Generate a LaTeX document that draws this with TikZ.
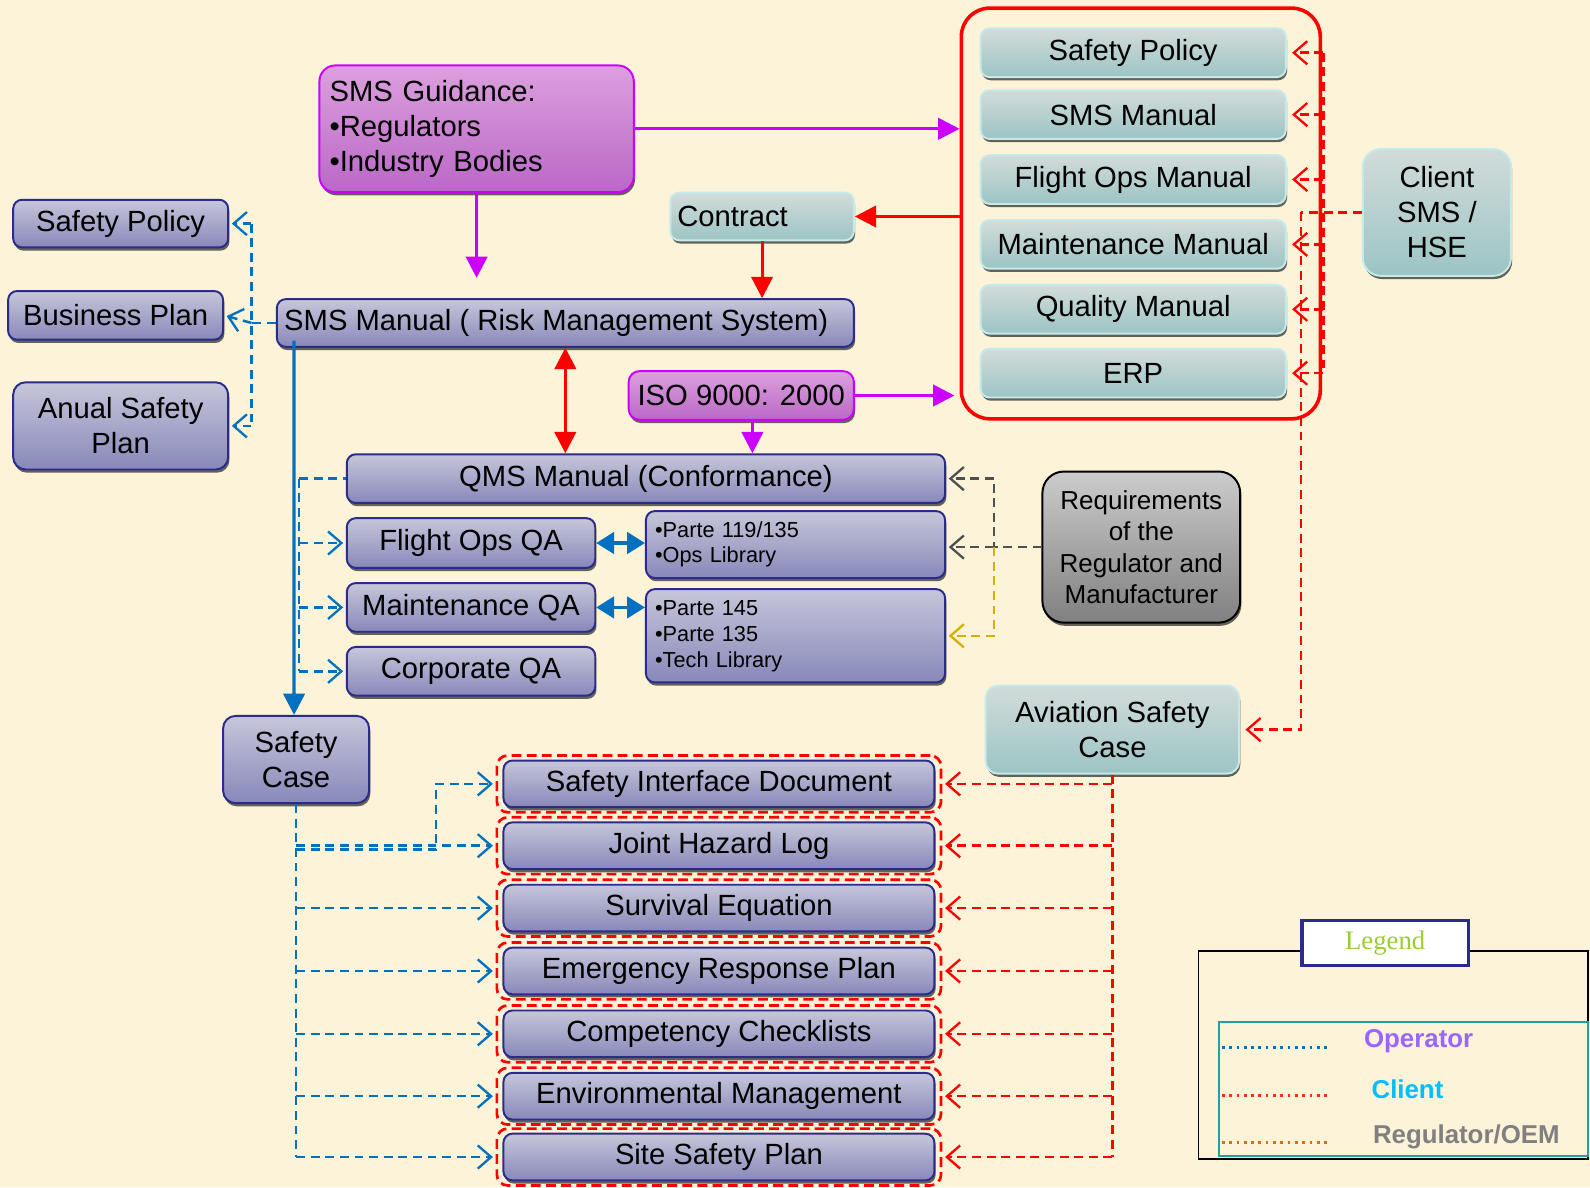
\documentclass[tikz,border=0pt]{standalone}
\usepackage{fontspec}
\setmainfont{Liberation Sans}
\newfontfamily\legendserif{Liberation Serif}
\usetikzlibrary{arrows.meta,shadows,calc}

\definecolor{paper}{RGB}{252,243,216}
\definecolor{navy}{RGB}{43,43,140}
\definecolor{lavtop}{RGB}{198,198,218}
\definecolor{lavbot}{RGB}{136,136,186}
\definecolor{tealtop}{RGB}{210,220,218}
\definecolor{tealbot}{RGB}{156,196,196}
\definecolor{tealedge}{RGB}{196,234,236}
\definecolor{magtop}{RGB}{220,160,222}
\definecolor{magbot}{RGB}{186,104,198}
\definecolor{magedge}{RGB}{204,0,255}
\definecolor{greytop}{RGB}{204,204,204}
\definecolor{greybot}{RGB}{128,128,128}
\definecolor{opblue}{RGB}{0,112,192}
\definecolor{reqgrey}{RGB}{80,80,80}
\definecolor{reqyellow}{RGB}{214,176,0}
\definecolor{legteal}{RGB}{32,160,160}
\definecolor{legorange}{RGB}{214,112,16}
\definecolor{legred}{RGB}{255,48,16}
\definecolor{legpurple}{RGB}{153,102,255}
\definecolor{legcyan}{RGB}{0,191,255}
\definecolor{leggreen}{RGB}{154,205,50}
\definecolor{leggrey}{RGB}{128,128,128}

\tikzset{
  boxbase/.style={font=\fontsize{16.4}{19.6}\selectfont, inner sep=0pt, align=center, line width=1.1pt,
    drop shadow={shadow xshift=0.7pt,shadow yshift=-1.8pt,opacity=0.6,fill=black}},
  sz/.style 2 args={minimum width=#1*0.02cm, minimum height=#2*0.02cm},
  lavbox/.style={boxbase, draw=navy, top color=lavtop, bottom color=lavbot, rounded corners=5pt},
  tealbox/.style={boxbase, draw=tealedge, top color=tealtop, bottom color=tealbot, rounded corners=5pt},
  magbox/.style={boxbase, draw=magedge, top color=magtop, bottom color=magbot, rounded corners=6pt},
  greybox/.style={boxbase, draw=black, top color=greytop, bottom color=greybot, rounded corners=12pt},
  listbox/.style={lavbox, align=left, font=\fontsize{12.2}{14.4}\selectfont, text width=5.54cm},
  redout/.style={draw=red, line width=1.5pt, dash pattern=on 5.5pt off 3pt, rounded corners=6pt, sz={438}{56}, inner sep=0pt},
  magarrow/.style={draw=magedge, line width=1.7pt, -{Triangle[length=12pt,width=12pt]}},
  redarrow/.style={draw=red, line width=1.7pt, -{Triangle[length=12pt,width=12pt]}},
  bluearrow/.style={draw=opblue, line width=1.8pt, -{Triangle[length=12pt,width=12pt]}},
  dashbase/.style={line width=1.4pt, dash pattern=on 5pt off 3.2pt},
  opdash/.style={dashbase, draw=opblue},
  clientdash/.style={dashbase, draw=red},
  greydash/.style={dashbase, draw=reqgrey},
  yeldash/.style={dashbase, draw=reqyellow},
  opentip/.style={-{Straight Barb[length=7.5pt,width=13pt,line width=1.3pt]}, shorten >=1.5pt},
  legdots/.style={line width=1.6pt, dash pattern=on 1.5pt off 2.6pt},
  leglabel/.style={font=\bfseries\fontsize{14.5}{17}\selectfont, inner sep=0pt}
}

\begin{document}
\begin{tikzpicture}[x=0.02cm, y=-0.02cm]
\path[use as bounding box, fill=paper] (0,0) rectangle (1568,1171);

% ---------- client document set ----------
\node[draw=red, line width=2pt, rounded corners=16pt, sz={354}{405}, inner sep=0pt] (cont) at (1125,210.5) {};
\node[tealbox, sz={301}{48}] (rsp)  at (1117.5,52)  {Safety Policy};
\node[tealbox, sz={301}{48}] (rsms) at (1117.5,113) {SMS Manual};
\node[tealbox, sz={301}{48}] (rfo)  at (1117.5,177) {Flight Ops Manual};
\node[tealbox, sz={301}{48}] (rmm)  at (1117.5,241) {Maintenance Manual};
\node[tealbox, sz={301}{48}] (rqm)  at (1117.5,305) {Quality Manual};
\node[tealbox, sz={301}{48}] (rerp) at (1117.5,368) {ERP};
\node[tealbox, sz={146}{125}, rounded corners=10pt] (client) at (1417,209.5) {Client\\SMS /\\HSE};
\node[tealbox, sz={181}{47}, align=left, text width=3.34cm] (contract) at (751.5,213.5) {Contract};
\node[tealbox, sz={250}{87}, rounded corners=7pt] (asc) at (1097,719.5) {Aviation Safety\\Case};

% ---------- guidance ----------
\node[magbox, sz={310}{125}, rounded corners=9pt, align=left, text width=5.8cm] (smsg) at (470,127) {SMS Guidance:\\•Regulators\\•Industry Bodies};
\node[magbox, sz={222}{48}] (iso) at (731,390) {ISO 9000: 2000};

% ---------- operator documents ----------
\node[lavbox, sz={212}{47}] (lsp)  at (119,220.5) {Safety Policy};
\node[lavbox, sz={212}{48}] (lbp)  at (114,311)   {Business Plan};
\node[lavbox, sz={212}{86}, rounded corners=7pt] (lasp) at (119,420) {Anual Safety\\Plan};
\node[lavbox, sz={569}{47}] (smsm) at (557.5,318.5) {SMS Manual ( Risk Management System)\hspace*{0.36cm}};
\node[lavbox, sz={590}{48}] (qms)  at (637,472)   {QMS Manual (Conformance)};
\node[lavbox, sz={245}{49}] (foqa) at (464.5,535.5) {Flight Ops QA};
\node[lavbox, sz={245}{48}] (mqa)  at (464.5,599) {Maintenance QA};
\node[lavbox, sz={245}{48}] (cqa)  at (464.5,662) {Corporate QA};
\node[listbox, sz={295}{66}] (p119) at (784.5,537) {•Parte 119/135\\•Ops Library};
\node[listbox, sz={295}{92}, font=\fontsize{12.2}{14.6}\selectfont] (p145) at (784.5,627) {•Parte 145\\•Parte 135\\•Tech Library};
\node[lavbox, sz={144}{86}, rounded corners=7pt] (sc) at (292,749) {Safety\\Case};

\node[greybox, sz={195}{149}, font=\fontsize{14.6}{17.6}\selectfont] (req) at (1125.5,539.5) {Requirements\\of the\\Regulator and\\Manufacturer};

% ---------- safety case documents ----------
\node[redout] (o1) at (709,773)    {};
\node[redout] (o2) at (709,834)    {};
\node[redout] (o3) at (709,895.5)  {};
\node[redout] (o4) at (709,957.5)  {};
\node[redout] (o5) at (709,1019.5) {};
\node[redout] (o6) at (709,1081)   {};
\node[redout] (o7) at (709,1141)   {};
\node[lavbox, sz={425}{46}] (sid) at (o1) {Safety Interface Document};
\node[lavbox, sz={425}{46}] (jhl) at (o2) {Joint Hazard Log};
\node[lavbox, sz={425}{46}] (seq) at (o3) {Survival Equation};
\node[lavbox, sz={425}{46}] (erp) at (o4) {Emergency Response Plan};
\node[lavbox, sz={425}{46}] (ccl) at (o5) {Competency Checklists};
\node[lavbox, sz={425}{46}] (env) at (o6) {Environmental Management};
\node[lavbox, sz={425}{46}] (ssp) at (o7) {Site Safety Plan};

% ---------- solid connectors ----------
\draw[magarrow] (smsg.east) -- (smsg.east -| cont.west);
\draw[magarrow, shorten >=0.4cm] (smsg.south) -- (smsg.south |- smsm.north);
\draw[magarrow, shorten >=0.1cm] (iso.east) -- (iso.east -| cont.west);
\draw[magarrow] ([xshift=0.22cm]iso.south) -- ([xshift=0.22cm]iso.south |- qms.north);
\draw[redarrow] (cont.west |- contract.east) -- (contract.east);
\draw[redarrow] (contract.south) -- (contract.south |- smsm.north);
\draw[redarrow, {Triangle[length=12pt,width=12pt]}-{Triangle[length=12pt,width=12pt]}] (smsm.south) -- (smsm.south |- qms.north);
\draw[bluearrow] ($(sc.north |- smsm.south)+(-2,-7)$) -- ([xshift=-0.04cm]sc.north);
\draw[bluearrow, {Triangle[length=10pt,width=12pt]}-{Triangle[length=10pt,width=12pt]}] (foqa.east) -- (foqa.east -| p119.west);
\draw[bluearrow, {Triangle[length=10pt,width=12pt]}-{Triangle[length=10pt,width=12pt]}] (mqa.east) -- (mqa.east -| p145.west);

% ---------- operator links ----------
\coordinate (lbus) at (248,318.5);
\draw[opdash] (smsm.west) -- (lbus);
\draw[opdash] (lbus |- lsp.east) -- (lbus |- lasp.east);
\draw[opdash, opentip] (lbus |- lsp.east) -- (lsp.east);
\draw[opdash, opentip] (lbus) -- (lbp.east);
\draw[opdash, opentip] (lbus |- lasp.east) -- (lasp.east);

\coordinate (qbus) at (295,472);
\draw[opdash] (qbus) -- (qms.west);
\draw[opdash] (qbus) -- (qbus |- cqa.west);
\draw[opdash, opentip] (qbus |- foqa.west) -- (foqa.west);
\draw[opdash, opentip] (qbus |- mqa.west) -- (mqa.west);
\draw[opdash, opentip] (qbus |- cqa.west) -- (cqa.west);

\coordinate (sj) at (430,0);
\draw[opdash] (sc.south) -- (sc.south |- o7.west);
\draw[opdash, opentip] ($(sc.south |- o2.west)+(0,3.5)$) -| (sj |- o1.west) -- (o1.west);
\draw[opdash, opentip] (sc.south |- o2.west) -- (o2.west);
\draw[opdash, opentip] (sc.south |- o3.west) -- (o3.west);
\draw[opdash, opentip] (sc.south |- o4.west) -- (o4.west);
\draw[opdash, opentip] (sc.south |- o5.west) -- (o5.west);
\draw[opdash, opentip] (sc.south |- o6.west) -- (o6.west);
\draw[opdash, opentip] (sc.south |- o7.west) -- (o7.west);

% ---------- regulator links ----------
\coordinate (rj) at (980,539.5);
\draw[greydash] (req.west) -- (rj) -- (rj |- qms.east);
\draw[greydash, opentip] (rj |- qms.east) -- (qms.east);
\draw[greydash, opentip] (rj) -- (rj -| p119.east);
\draw[yeldash, opentip] (rj) |- (p145.east);

% ---------- client links ----------
\coordinate (cbus) at (1283,209.5);
\coordinate (mbus) at (1305,0);
\draw[clientdash] (client.west) -- (cbus);
\draw[clientdash, opentip, shorten >=3pt] (cbus) |- (asc.east);
\draw[clientdash] (mbus |- rsp.east) -- (mbus |- rerp.east);
\foreach \m in {rsp,rsms,rfo,rmm,rqm,rerp}
  \draw[clientdash, opentip, shorten >=3pt] (mbus |- \m.east) -- (\m.east);
\draw[clientdash] (asc.south) -- (asc.south |- o7.east);
\foreach \o in {o1,o2,o3,o4,o5,o6,o7}
  \draw[clientdash, opentip] (asc.south |- \o.east) -- (\o.east);

% ---------- legend ----------
\node[draw=black, line width=0.8pt, sz={384}{205}, inner sep=0pt] (legbox) at (1374,1040.5) {};
\node[draw=legteal, line width=0.8pt, sz={364}{132}, inner sep=0pt] (legin) at (1384,1074) {};
\node[draw=navy, line width=1.8pt, fill=white, sz={164}{44}, inner sep=0pt,
      font=\legendserif\fontsize{15}{18}\selectfont, text=leggreen] (legt) at (1366,930) {Legend};
\draw[legdots, draw=opblue]    (1205,1033) -- (1313,1033);
\draw[legdots, draw=legred]    (1205,1080) -- (1313,1080);
\draw[legdots, draw=legorange] (1205,1127) -- (1313,1127);
\node[leglabel, text=legpurple] (lop) at (1399,1027) {Operator};
\node[leglabel, text=legcyan]   (lcl) at (1388,1074) {Client};
\node[leglabel, text=leggrey]   (lrg) at (1446,1121) {Regulator/OEM};
\end{tikzpicture}
\end{document}
